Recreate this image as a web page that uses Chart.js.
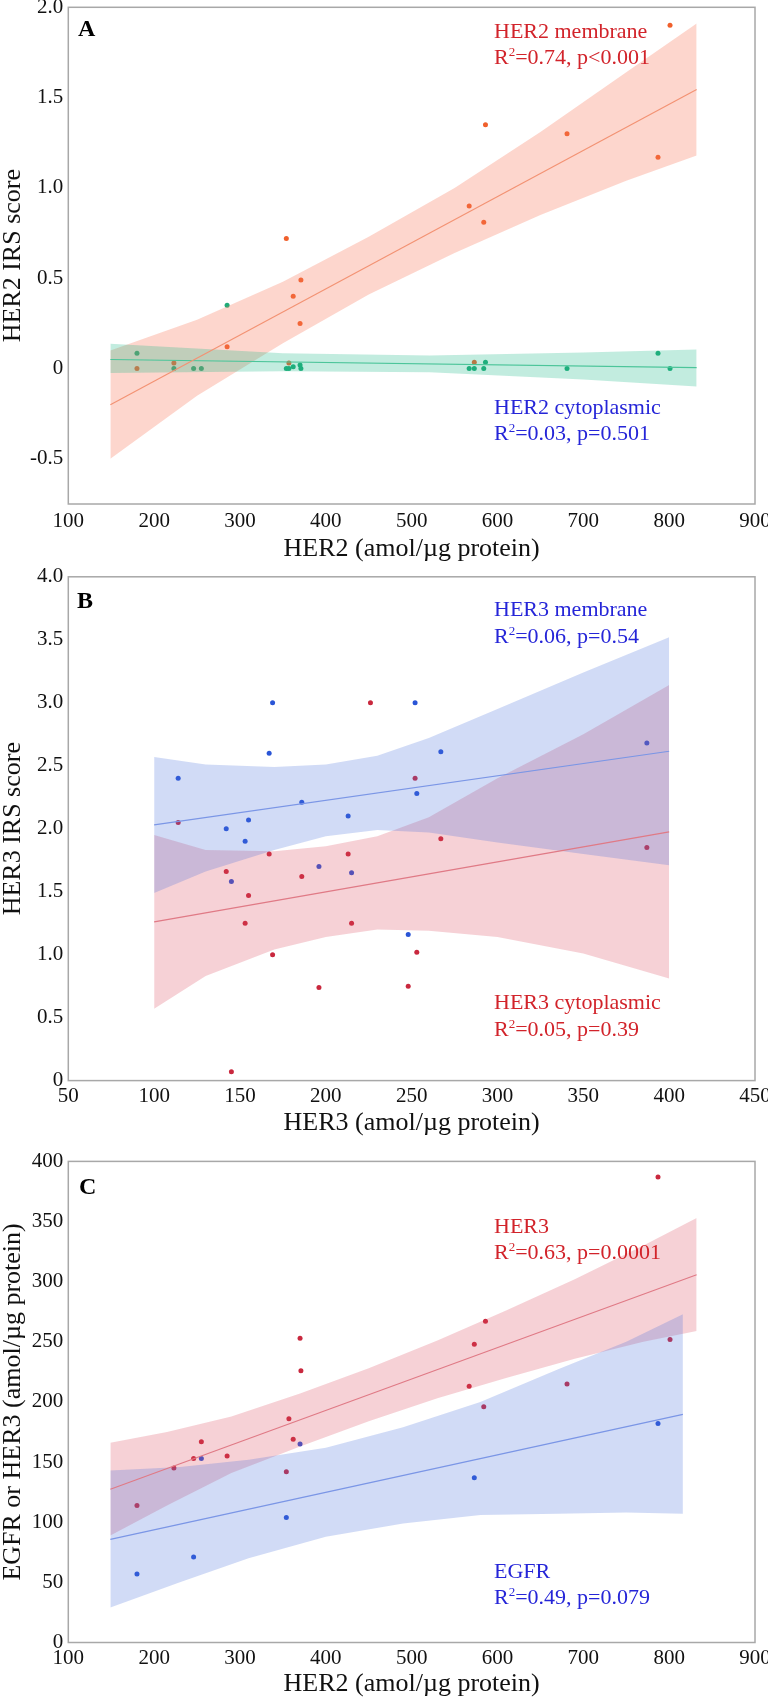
<!DOCTYPE html>
<html>
<head>
<meta charset="utf-8">
<script src="https://cdn.jsdelivr.net/npm/chart.js@4/dist/chart.umd.min.js"></script>
<style>
  html, body { margin: 0; padding: 0; background: #fff; overflow: hidden; }
  #wrap { position: relative; width: 768px; height: 1700px; }
  canvas { position: absolute; left: 0; }
</style>
</head>
<body>
<div id="wrap">
  <canvas id="panelA" width="768" height="568" style="top:0px"></canvas>
  <canvas id="panelB" width="768" height="600" style="top:568px"></canvas>
  <canvas id="panelC" width="768" height="566" style="top:1134px"></canvas>
</div>
<script>
// ---- data ----
// samples ordered by HER2 amount (panels A and C)
const her2 = [180, 223, 246, 255, 285, 354, 357, 362, 370, 371, 567, 573, 584, 586, 681, 787, 801];
const her2Membrane    = [0, 0.03, null, null, 0.12, 0.72, 0.03, 0.40, 0.25, 0.49, 0.90, 0.035, 0.81, 1.35, 1.30, 1.17, 1.90];
const her2Cytoplasmic = [0.085, 0, 0, 0, 0.35, 0, 0, 0.01, 0.02, 0, 0, 0, 0, 0.035, 0, 0.085, 0];
const her3Amount = [114, 145, 153, 167, 155, 142, 186, 169, 253, 226, 213, 248, 196, 267, 215, 387, 252];
const egfrAmount = [57, null, 71, 153, null, 104, null, null, 165, null, null, 137, null, null, null, 182, null];

// samples ordered by HER3 amount (panel B)
const her3 = [114, 142, 145, 153, 155, 167, 169, 186, 196, 213, 215, 226, 248, 252, 253, 267, 387];
const her3Membrane    = [2.40, 2.00, 1.58, 1.90, 2.07, 2.60, 3.00, 2.21, 1.70, 2.10, 1.65, null, 1.16, 3.00, 2.28, 2.61, 2.68];
const her3Cytoplasmic = [2.05, 1.66, 0.07, 1.25, 1.47, 1.80, 1.00, 1.62, 0.74, 1.80, 1.25, 3.00, 0.75, 2.40, 1.02, 1.92, 1.85];

// fitted lines and 95% bands
const aFitX = [149, 832];
const aMemFit = [-0.2, 1.545];
const aCytFit = [0.05, 0.005];
const aMemBandX = [149, 250, 350, 450, 550, 650, 750, 832];
const aMemUpper = [0.10, 0.27, 0.48, 0.73, 1.00, 1.31, 1.64, 1.91];
const aMemLower = [-0.50, -0.15, 0.14, 0.41, 0.64, 0.85, 1.04, 1.18];
const aCytBandX = [149, 350, 521, 700, 832];
const aCytUpper = [0.137, 0.085, 0.072, 0.089, 0.105];
const aCytLower = [-0.025, -0.015, -0.02, -0.061, -0.10];

const bFitX = [100, 400];
const bMemFit = [2.03, 2.615];
const bCytFit = [1.26, 1.975];
const bBandX = [100, 130, 170, 200, 230, 260, 300, 350, 400];
const bMemUpper = [2.57, 2.51, 2.49, 2.51, 2.58, 2.72, 2.95, 3.24, 3.52];
const bMemLower = [1.49, 1.66, 1.83, 1.94, 1.99, 1.97, 1.89, 1.80, 1.71];
const bCytUpper = [1.95, 1.83, 1.82, 1.86, 1.94, 2.09, 2.40, 2.75, 3.14];
const bCytLower = [0.57, 0.83, 1.04, 1.14, 1.20, 1.19, 1.14, 1.01, 0.81];

const cHer3FitX = [149, 832];
const cHer3Fit = [127.4, 305.8];
const cEgfrFitX = [149, 816];
const cEgfrFit = [85.8, 189.7];
const cHer3BandX = [149, 215, 290, 370, 450, 530, 610, 690, 770, 832];
const cHer3Upper = [166, 175, 188, 207, 228, 251, 276, 302, 330, 353];
const cHer3Lower = [89, 114, 141, 163, 184, 203, 220, 236, 250, 259];
const cEgfrBandX = [149, 230, 310, 400, 490, 580, 670, 750, 816];
const cEgfrUpper = [143, 146, 152, 162, 179, 200, 227, 250, 273];
const cEgfrLower = [29, 50, 70, 88, 99, 106, 107, 108, 107];

// tick values
const her2Ticks = [100, 200, 300, 400, 500, 600, 700, 800, 900];
const her3Ticks = [50, 100, 150, 200, 250, 300, 350, 400, 450];
const aYTicks = [-0.5, 0, 0.5, 1.0, 1.5, 2.0];
const bYTicks = [0, 0.5, 1.0, 1.5, 2.0, 2.5, 3.0, 3.5, 4.0];
const cYTicks = [0, 50, 100, 150, 200, 250, 300, 350, 400];

// ---- drawing ----
const SERIF = "'Liberation Serif', 'Times New Roman', serif";
Chart.defaults.font.family = SERIF;
Chart.defaults.color = '#111';
Chart.defaults.animation = false;

const RED_TXT = '#d2232a';
const BLUE_TXT = '#2525d8';

const framePlugin = {
  id: 'frame',
  afterDatasetsDraw(chart) {
    const { ctx, chartArea: a } = chart;
    ctx.save();
    ctx.strokeStyle = '#a8a8a8';
    ctx.lineWidth = 1.5;
    ctx.strokeRect(a.left, a.top, a.right - a.left, a.bottom - a.top);
    ctx.restore();
  }
};

const notesPlugin = {
  id: 'notes',
  afterDraw(chart, args, opts) {
    const ctx = chart.ctx;
    ctx.save();
    ctx.textAlign = 'left';
    ctx.textBaseline = 'alphabetic';
    ctx.font = 'bold 24px ' + SERIF;
    ctx.fillStyle = '#000';
    ctx.fillText(opts.letter, opts.letterX, opts.letterY);
    opts.items.forEach(n => {
      ctx.fillStyle = n.color;
      ctx.font = '22px ' + SERIF;
      ctx.fillText(n.name, n.x, n.y);
      const y2 = n.y + 26.5;
      let x = n.x;
      ctx.fillText('R', x, y2);
      x += ctx.measureText('R').width;
      ctx.font = '13px ' + SERIF;
      ctx.fillText('2', x, y2 - 8);
      x += ctx.measureText('2').width;
      ctx.font = '22px ' + SERIF;
      ctx.fillText(n.stat, x, y2);
    });
    ctx.restore();
  }
};

function pts(xs, ys) {
  return xs.map((x, i) => ({ x: x, y: ys[i] })).filter(p => p.y !== null);
}
function dots(xs, ys, color) {
  return { type: 'scatter', data: pts(xs, ys), backgroundColor: color, borderColor: color,
           pointRadius: 2.5, pointBorderWidth: 0, order: 3 };
}
function band(xs, upper, lower, color) {
  return [
    { type: 'line', data: pts(xs, upper), borderColor: 'transparent', borderWidth: 0, pointRadius: 0,
      tension: 0, fill: '+1', backgroundColor: color, order: 2 },
    { type: 'line', data: pts(xs, lower), borderColor: 'transparent', borderWidth: 0, pointRadius: 0,
      tension: 0, fill: false, order: 2 }
  ];
}
function fit(xs, ys, color) {
  return { type: 'line', data: pts(xs, ys), borderColor: color, borderWidth: 1.2, pointRadius: 0,
           tension: 0, fill: false, order: 1 };
}

function panel(id, p) {
  new Chart(document.getElementById(id), {
    type: 'scatter',
    data: { datasets: p.datasets },
    options: {
      responsive: false,
      animation: false,
      layout: { padding: p.pad },
      plugins: { legend: { display: false }, tooltip: { enabled: false }, notes: p.notes },
      scales: {
        x: {
          type: 'linear', min: p.xTicks[0], max: p.xTicks[p.xTicks.length - 1],
          afterBuildTicks: s => { s.ticks = p.xTicks.map(v => ({ value: v })); },
          afterFit: s => { s.height = p.xAxisH; s.paddingLeft = 0; s.paddingRight = 0; },
          grid: { display: false, drawTicks: false },
          border: { display: false },
          ticks: { font: { size: 21 }, padding: p.xTickPad, maxRotation: 0, autoSkip: false },
          title: { display: true, text: p.xTitle, font: { size: 26, lineHeight: 1 }, padding: 0 }
        },
        y: {
          type: 'linear', min: p.yMin, max: p.yMax,
          afterBuildTicks: s => { s.ticks = p.yTicks.map(v => ({ value: v })); },
          afterFit: s => { s.width = 68.3; s.paddingTop = 0; s.paddingBottom = 0; },
          grid: { display: false, drawTicks: false },
          border: { display: false },
          ticks: { font: { size: 21 }, padding: 5, autoSkip: false, callback: p.yFmt },
          title: { display: true, text: p.yTitle, font: { size: 26, lineHeight: 1 }, padding: 0 }
        }
      }
    },
    plugins: [framePlugin, notesPlugin]
  });
}

const oneDecimal = v => (v === 0 ? '0' : v.toFixed(1));

panel('panelA', {
  datasets: [
    dots(her2, her2Membrane, '#f0602c'),
    dots(her2, her2Cytoplasmic, '#1fab78'),
    ...band(aCytBandX, aCytUpper, aCytLower, 'rgba(30,185,135,0.27)'),
    ...band(aMemBandX, aMemUpper, aMemLower, 'rgba(248,118,88,0.3)'),
    fit(aFitX, aMemFit, '#f39374'),
    fit(aFitX, aCytFit, '#4cc59a')
  ],
  pad: { top: 7.3, right: 13, bottom: 5.4, left: 0 },
  xAxisH: 58.6, xTickPad: 4.5,
  xTicks: her2Ticks, xTitle: 'HER2 (amol/\u00b5g protein)',
  yMin: -0.75, yMax: 2.0, yTicks: aYTicks, yFmt: oneDecimal, yTitle: 'HER2 IRS score',
  notes: {
    letter: 'A', letterX: 78, letterY: 36,
    items: [
      { name: 'HER2 membrane', stat: '=0.74, p<0.001', x: 494, y: 37.5, color: RED_TXT },
      { name: 'HER2 cytoplasmic', stat: '=0.03, p=0.501', x: 494, y: 413.5, color: BLUE_TXT }
    ]
  }
});

panel('panelB', {
  datasets: [
    dots(her3, her3Cytoplasmic, '#c9283e'),
    dots(her3, her3Membrane, '#2a55d6'),
    ...band(bBandX, bMemUpper, bMemLower, 'rgba(70,110,220,0.25)'),
    ...band(bBandX, bCytUpper, bCytLower, 'rgba(220,70,90,0.25)'),
    fit(bFitX, bMemFit, '#7b96e6'),
    fit(bFitX, bCytFit, '#e07a86')
  ],
  pad: { top: 8.8, right: 13, bottom: 32, left: 0 },
  xAxisH: 55.4, xTickPad: 3,
  xTicks: her3Ticks, xTitle: 'HER3 (amol/\u00b5g protein)',
  yMin: 0, yMax: 4.0, yTicks: bYTicks, yFmt: oneDecimal, yTitle: 'HER3 IRS score',
  notes: {
    letter: 'B', letterX: 77, letterY: 39.5,
    items: [
      { name: 'HER3 membrane', stat: '=0.06, p=0.54', x: 494, y: 48, color: BLUE_TXT },
      { name: 'HER3 cytoplasmic', stat: '=0.05, p=0.39', x: 494, y: 441.4, color: RED_TXT }
    ]
  }
});

panel('panelC', {
  datasets: [
    dots(her2, her3Amount, '#c9283e'),
    dots(her2, egfrAmount, '#2a55d6'),
    ...band(cEgfrBandX, cEgfrUpper, cEgfrLower, 'rgba(70,110,220,0.25)'),
    ...band(cHer3BandX, cHer3Upper, cHer3Lower, 'rgba(220,70,90,0.25)'),
    fit(cHer3FitX, cHer3Fit, '#e07a86'),
    fit(cEgfrFitX, cEgfrFit, '#7b96e6')
  ],
  pad: { top: 27.4, right: 13, bottom: 2.4, left: 0 },
  xAxisH: 55.1, xTickPad: 3,
  xTicks: her2Ticks, xTitle: 'HER2 (amol/\u00b5g protein)',
  yMin: 0, yMax: 400, yTicks: cYTicks, yFmt: v => String(v), yTitle: 'EGFR or HER3 (amol/\u00b5g protein)',
  notes: {
    letter: 'C', letterX: 79, letterY: 60,
    items: [
      { name: 'HER3', stat: '=0.63, p=0.0001', x: 494, y: 98.7, color: RED_TXT },
      { name: 'EGFR', stat: '=0.49, p=0.079', x: 494, y: 443.5, color: BLUE_TXT }
    ]
  }
});
</script>
</body>
</html>
